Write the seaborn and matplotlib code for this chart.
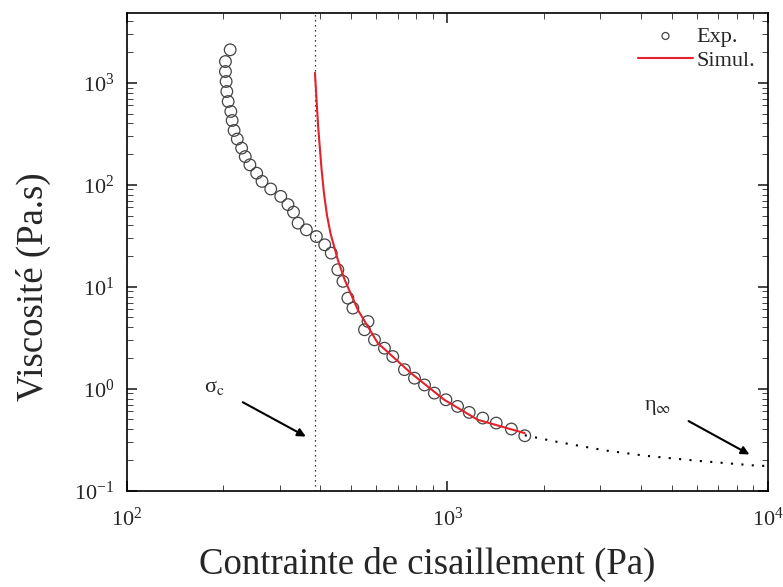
import numpy as np
import pandas as pd
import matplotlib
matplotlib.use("Agg")
import matplotlib.pyplot as plt
import matplotlib.ticker as mticker
import seaborn as sns

# experimental points (shear stress Pa, viscosity Pa.s)
exp_stress = [210, 203, 203, 204, 205, 207, 211, 213, 216, 221, 228, 234, 242, 254,
              264, 281, 302, 318, 331, 342, 363, 390, 414, 434, 455, 472, 489, 507,
              565, 551, 592, 636, 675, 734, 789, 848, 910, 989, 1075, 1169, 1288,
              1419, 1582, 1742]
exp_visc = [2108, 1618, 1291, 1031, 822, 656, 524, 427, 341, 281, 229, 189, 157, 130,
            108, 91, 77, 64, 54, 42.1, 36.2, 31.1, 25.8, 21.4, 14.7, 11.3, 7.74, 6.18,
            4.57, 3.79, 3.02, 2.50, 2.07, 1.54, 1.27, 1.09, 0.907, 0.780, 0.671, 0.586,
            0.516, 0.461, 0.403, 0.346]

# simulated curve
sim_stress = [386, 395, 405, 412, 421, 432, 455, 478, 525, 606, 768, 977, 1241, 1742]
sim_visc = [1253, 373, 140, 82, 50, 33, 18.4, 11.7, 5.96, 2.81, 1.43, 0.78, 0.497, 0.367]

# extrapolation towards eta_inf
ext_stress = [1742, 2166, 3114, 4160, 5975, 9230, 10000]
ext_visc = [0.35, 0.304, 0.248, 0.220, 0.197, 0.176, 0.175]

sigma_c = 387

sns.set_style("ticks")
plt.rcParams.update({
    "font.family": ["Liberation Serif", "DejaVu Serif"],
    "mathtext.fontset": "stix",
    "xtick.direction": "in",
    "ytick.direction": "in",
    "xtick.top": True,
    "ytick.right": True,
    "xtick.major.size": 7,
    "ytick.major.size": 7,
    "xtick.minor.size": 4,
    "ytick.minor.size": 4,
    "xtick.major.width": 1.2,
    "ytick.major.width": 1.2,
    "axes.linewidth": 1.2,
    "axes.edgecolor": "black",
})

exp_df = pd.DataFrame({"stress": exp_stress, "visc": exp_visc})
sim_df = pd.DataFrame({"stress": sim_stress, "visc": sim_visc})
ext_df = pd.DataFrame({"stress": ext_stress, "visc": ext_visc})

fig = plt.figure(figsize=(7.83, 5.87), dpi=100)
ax = fig.add_axes([0.162, 0.164, 0.819, 0.814])

ax.axvline(sigma_c, color="black", linestyle=(0, (1, 3)), linewidth=0.9, zorder=1)

sns.lineplot(data=ext_df, x="stress", y="visc", ax=ax, color="black",
             linestyle=(0, (1, 4)), linewidth=1.5, sort=False, zorder=1)
sns.scatterplot(data=exp_df, x="stress", y="visc", ax=ax, marker="o",
                facecolor="none", edgecolor="#444444", s=70, linewidth=0.9,
                label="Exp.", zorder=2)
sns.lineplot(data=sim_df, x="stress", y="visc", ax=ax, color="#e3222b",
             linewidth=1.5, sort=False, label="Simul.", zorder=3)

ax.set_xscale("log")
ax.set_yscale("log")
ax.set_xlim(100, 10000)
ax.set_ylim(0.1, 4850)
ax.xaxis.set_minor_formatter(mticker.NullFormatter())
ax.yaxis.set_minor_formatter(mticker.NullFormatter())
ax.tick_params(labelsize=16)
ax.tick_params(axis="x", pad=12)
ax.tick_params(axis="y", pad=9)

ax.set_xlabel("Contrainte de cisaillement (Pa)", fontsize=26.5)
ax.set_ylabel("Viscosité (Pa.s)", fontsize=26.5)
ax.xaxis.set_label_coords(0.468, -0.118)
ax.yaxis.set_label_coords(-0.118, 0.427)

ax.text(187, 1.02, r"σ$_\mathrm{c}$", fontsize=16, ha="center", va="center")
ax.annotate("", xy=(368, 0.33), xytext=(226, 0.76),
            arrowprops=dict(arrowstyle="-|>", color="black", lw=1.5, mutation_scale=12))
ax.text(4510, 0.652, r"η$_\infty$", fontsize=16, ha="center", va="center")
ax.annotate("", xy=(8900, 0.22), xytext=(5550, 0.497),
            arrowprops=dict(arrowstyle="-|>", color="black", lw=1.5, mutation_scale=12))

ax.legend(loc="upper right", frameon=False, fontsize=16, handlelength=2.45,
          handletextpad=0.15, borderaxespad=0.2, labelspacing=0.15, markerscale=0.6)

fig.savefig("out.png", dpi=100)
